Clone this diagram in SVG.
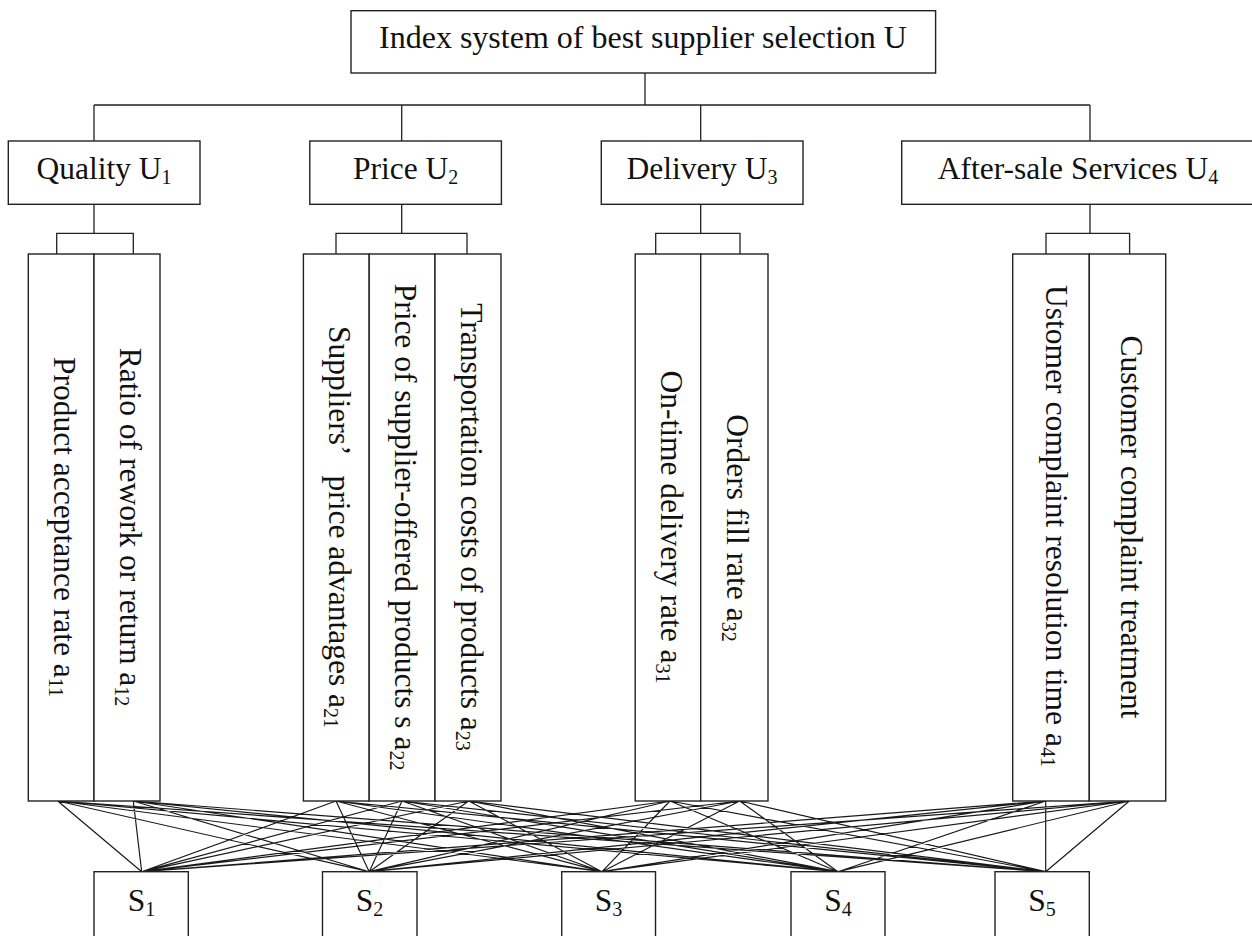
<svg xmlns="http://www.w3.org/2000/svg" width="1252" height="936" viewBox="0 0 1252 936">
<style>
.box{fill:#fff;stroke:#222;stroke-width:1.4}
.ln{fill:none;stroke:#222;stroke-width:1.3}
.cn{fill:none;stroke:#1a1a1a;stroke-width:1.2}
text{font-family:"Liberation Serif","Times New Roman",serif;font-size:31.5px;fill:#111}
.m{text-anchor:middle}
.sub{font-size:20px}
</style>
<rect width="1252" height="936" fill="#fff"/>

<g id="tree-lines">
<path class="ln" d="M645,73V105M94,105H1090M94,105V141M401.7,105V141M700.7,105V141M1090,105V141"/>
<path class="ln" d="M94,204V233.3M56.7,254V233.3H133.3V254"/>
<path class="ln" d="M401.7,204V233.3M336,254V233.3H467V254"/>
<path class="ln" d="M700.7,204V233.3M655.7,254V233.3H740V254"/>
<path class="ln" d="M1090,204V233.3M1046,254V233.3H1129.6V254"/>
</g>

<g id="connectors">
<path class="cn" d="
M57.7,801L141.7,871.7M57.7,801L369.2,871.7M57.7,801L602,871.7M57.7,801L838,871.7M57.7,801L1045.7,871.7
M133.3,801L141.7,871.7M133.3,801L369.2,871.7M133.3,801L602,871.7M133.3,801L838,871.7M133.3,801L1045.7,871.7
M336,801L141.7,871.7M336,801L369.2,871.7M336,801L602,871.7M336,801L838,871.7M336,801L1045.7,871.7
M402,801L141.7,871.7M402,801L369.2,871.7M402,801L602,871.7M402,801L838,871.7M402,801L1045.7,871.7
M468.7,801L141.7,871.7M468.7,801L369.2,871.7M468.7,801L602,871.7M468.7,801L838,871.7M468.7,801L1045.7,871.7
M670,801L141.7,871.7M670,801L369.2,871.7M670,801L602,871.7M670,801L838,871.7M670,801L1045.7,871.7
M739.7,801L141.7,871.7M739.7,801L369.2,871.7M739.7,801L602,871.7M739.7,801L838,871.7M739.7,801L1045.7,871.7
M1045.7,801L141.7,871.7M1045.7,801L369.2,871.7M1045.7,801L602,871.7M1045.7,801L838,871.7M1045.7,801L1045.7,871.7
M1129.3,801L141.7,871.7M1129.3,801L369.2,871.7M1129.3,801L602,871.7M1129.3,801L838,871.7M1129.3,801L1045.7,871.7"/>
</g>

<g id="root">
<rect class="box" x="351" y="10.7" width="584.6" height="62.3"/>
<text class="m" x="643" y="48" style="font-size:32px">Index system of best supplier selection U</text>
</g>

<g id="u1">
<rect class="box" x="8.3" y="141" width="191.7" height="63.3"/>
<text class="m" x="104" y="179">Quality U<tspan class="sub" dy="5">1</tspan></text>
</g>
<g id="u2">
<rect class="box" x="309.8" y="141" width="191.6" height="63.3"/>
<text class="m" x="405.6" y="179">Price U<tspan class="sub" dy="5">2</tspan></text>
</g>
<g id="u3">
<rect class="box" x="601.3" y="141" width="201.7" height="63.3"/>
<text class="m" x="702" y="179">Delivery U<tspan class="sub" dy="5">3</tspan></text>
</g>
<g id="u4">
<rect class="box" x="901.7" y="141" width="352" height="63.3"/>
<text class="m" x="1078" y="179">After-sale Services U<tspan class="sub" dy="5">4</tspan></text>
</g>

<g id="a11">
<rect class="box" x="28.3" y="254" width="65.7" height="547"/>
<text class="m" transform="translate(54,527) rotate(90)">Product acceptance rate a<tspan class="sub" dy="5">11</tspan></text>
</g>
<g id="a12">
<rect class="box" x="94" y="254" width="66" height="547"/>
<text class="m" transform="translate(120,527) rotate(90)">Ratio of rework or return a<tspan class="sub" dy="5">12</tspan></text>
</g>
<g id="a21">
<rect class="box" x="303.4" y="254" width="65.8" height="547"/>
<text class="m" transform="translate(329,527) rotate(90)">Suppliers’<tspan dx="20">price advantages a</tspan><tspan class="sub" dy="5">21</tspan></text>
</g>
<g id="a22">
<rect class="box" x="369.2" y="254" width="65.8" height="547"/>
<text class="m" transform="translate(395,527) rotate(90)">Price of supplier-offered products s a<tspan class="sub" dy="5">22</tspan></text>
</g>
<g id="a23">
<rect class="box" x="435" y="254" width="66" height="547"/>
<text class="m" transform="translate(461,527) rotate(90)">Transportation costs of products a<tspan class="sub" dy="5">23</tspan></text>
</g>
<g id="a31">
<rect class="box" x="635.2" y="254" width="65.5" height="547"/>
<text class="m" transform="translate(661,527) rotate(90)">On-time delivery rate a<tspan class="sub" dy="5">31</tspan></text>
</g>
<g id="a32">
<rect class="box" x="700.7" y="254" width="67.3" height="547"/>
<text class="m" transform="translate(727,528) rotate(90)">Orders fill rate a<tspan class="sub" dy="5">32</tspan></text>
</g>
<g id="a41">
<rect class="box" x="1012.7" y="254" width="76.6" height="547"/>
<text class="m" transform="translate(1046,526) rotate(90)">Ustomer complaint resolution time a<tspan class="sub" dy="5">41</tspan></text>
</g>
<g id="a42">
<rect class="box" x="1089.3" y="254" width="76.4" height="547"/>
<text class="m" transform="translate(1121,527) rotate(90)">Customer complaint treatment</text>
</g>

<g id="s1">
<rect class="box" x="94" y="871.7" width="94.3" height="80"/>
<text class="m" x="141.5" y="911">S<tspan class="sub" dy="5">1</tspan></text>
</g>
<g id="s2">
<rect class="box" x="322.5" y="871.7" width="94.5" height="80"/>
<text class="m" x="369.5" y="911">S<tspan class="sub" dy="5">2</tspan></text>
</g>
<g id="s3">
<rect class="box" x="561.7" y="871.7" width="93.8" height="80"/>
<text class="m" x="608.5" y="911">S<tspan class="sub" dy="5">3</tspan></text>
</g>
<g id="s4">
<rect class="box" x="791" y="871.7" width="94" height="80"/>
<text class="m" x="838" y="911">S<tspan class="sub" dy="5">4</tspan></text>
</g>
<g id="s5">
<rect class="box" x="995" y="871.7" width="94.3" height="80"/>
<text class="m" x="1042" y="911">S<tspan class="sub" dy="5">5</tspan></text>
</g>
</svg>
